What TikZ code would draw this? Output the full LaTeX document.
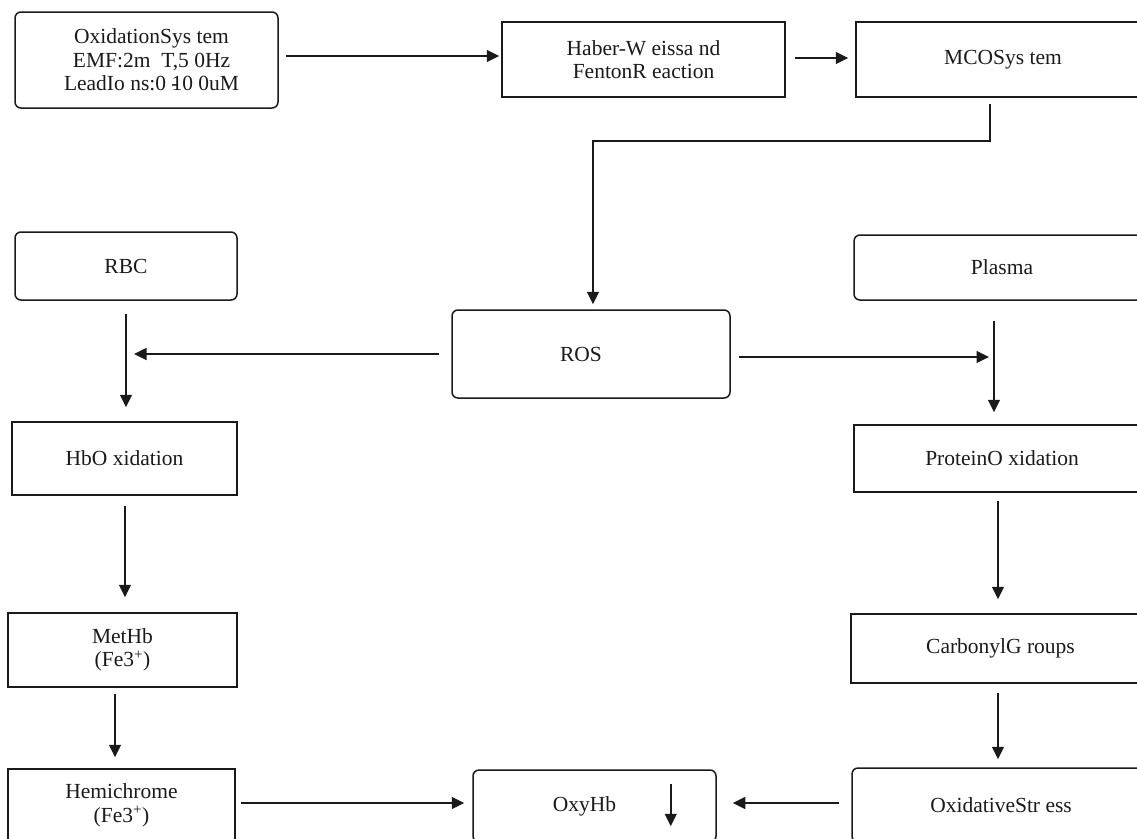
\documentclass[tikz,border=0pt]{standalone}
\usepackage{fontspec}
\setmainfont{Liberation Serif}
\usetikzlibrary{arrows.meta,calc}
\definecolor{ink}{HTML}{1A1A1A}
\begin{document}
\begin{tikzpicture}[x=1pt,y=-1pt,
  box/.style={draw=ink, line width=1.5pt, align=center, inner sep=0pt,
    font=\fontsize{21.5}{23.5}\selectfont, text=ink},
  rbox/.style={box, rounded corners=6pt},
  arr/.style={draw=ink, line width=1.5pt, -{Triangle[length=12.5pt,width=12pt]}}]
\useasboundingbox (0,0) rectangle (1137,838);
\fill[white] (0,0) rectangle (1137,838);
\clip (0,0) rectangle (1137,838);
% boxes
\node[rbox, minimum width=263pt, minimum height=96pt] (ox) at (146.5,60)
  {\hspace*{10pt}OxidationSys tem\\\hspace*{10pt}EMF:2m\ \ T,5 0Hz\\\hspace*{10pt}LeadIo ns:0 \makebox[0pt][l]{-}10 0uM};
\node[box, minimum width=283pt, minimum height=75pt] (hw) at (643.5,59.5)
  {Haber-W eissa nd\\FentonR eaction};
\node[box, minimum width=294pt, minimum height=75pt] (mco) at (1003,59.5) {MCOSys tem};
\node[rbox, minimum width=222pt, minimum height=68pt] (rbc) at (126,266) {RBC};
\node[rbox, minimum width=296pt, minimum height=65pt] (pl) at (1002,267.5) {Plasma};
\node[rbox, minimum width=278pt, minimum height=88pt] (ros) at (591,354) {ROS\hspace*{20pt}};
\node[box, minimum width=225pt, minimum height=73pt] (hb) at (124.5,458.5) {HbO xidation};
\node[box, minimum width=296pt, minimum height=67pt] (pr) at (1002,458.5) {ProteinO xidation};
\node[box, minimum width=229pt, minimum height=74pt] (mh) at (122.5,650) {MetHb\\(Fe3\textsuperscript{+})};
\node[box, minimum width=299pt, minimum height=69pt] (cb) at (1000.5,648.5) {CarbonylG roups};
\node[box, minimum width=227pt, minimum height=73pt] (hc) at (121.5,805.5) {Hemichrome\\(Fe3\textsuperscript{+})};
\node[rbox, minimum width=243pt, minimum height=72pt] (oxy) at (594.5,806) {OxyHb\hspace*{20pt}};
\node[rbox, minimum width=298pt, minimum height=74pt] (os) at (1001,805) {OxidativeStr ess};
% connectors
\draw[arr, shorten <=7pt, shorten >=2pt] ([yshift=4pt]ox.east) -- ([yshift=4pt]ox.east -| hw.west);
\draw[arr, shorten <=9pt, shorten >=7pt] ([yshift=1.5pt]hw.east) -- ([yshift=1.5pt]hw.east -| mco.west);
\draw[arr, shorten >=5pt] ([xshift=-13pt,yshift=-6pt]mco.south) -- ++(0,37) -| ([xshift=2pt]ros.north);
\draw[arr, shorten <=13pt, shorten >=14pt] (rbc.south) -- (rbc.south |- hb.north);
\draw[arr, shorten <=12pt] (ros.west) -- ($(ros.west -| rbc.south)+(8,0)$);
\draw[arr, shorten <=8pt] ([yshift=-3pt]ros.east) -- ($([yshift=-3pt]ros.east -| pl.south)+(-13,0)$);
\draw[arr, shorten <=20pt, shorten >=12pt] ([xshift=-8pt]pl.south) -- ([xshift=-8pt]pl.south |- pr.north);
\draw[arr, shorten <=8pt, shorten >=14pt] ([xshift=-4pt]pr.south) -- ([xshift=-4pt]pr.south |- cb.north);
\draw[arr, shorten <=9pt, shorten >=8pt] ([xshift=-2.5pt]cb.south) -- ([xshift=-2.5pt]cb.south |- os.north);
\draw[arr, shorten <=10pt, shorten >=15pt] ([xshift=0.5pt]hb.south) -- ([xshift=0.5pt]hb.south |- mh.north);
\draw[arr, shorten <=6pt, shorten >=11pt] ([xshift=-7.5pt]mh.south) -- ([xshift=-7.5pt]mh.south |- hc.north);
\draw[arr, shorten <=5pt, shorten >=8pt] ([yshift=2.5pt]hc.east) -- ([yshift=2.5pt]hc.east -| oxy.west);
\draw[arr, shorten <=12pt, shorten >=16pt] ([yshift=2pt]os.west) -- ([yshift=2pt]os.west -| oxy.east);
\coordinate (inA) at ($(oxy.north east)+(-46,15)$);
\coordinate (inB) at ($(oxy.north east)+(-46,57)$);
\draw[arr] (inA) -- (inB);
\end{tikzpicture}
\end{document}
